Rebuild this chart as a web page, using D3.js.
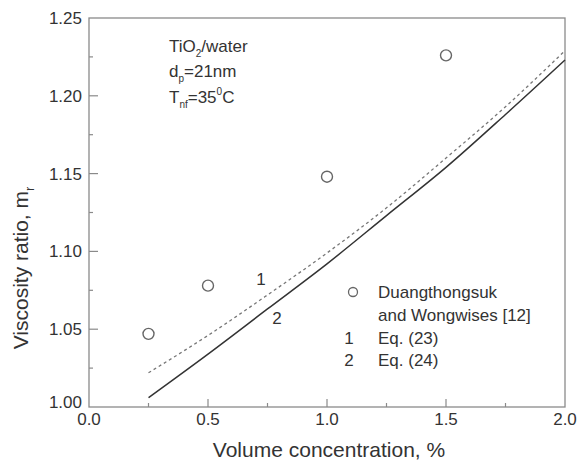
<!DOCTYPE html>
<html>
<head>
<meta charset="utf-8">
<script src="https://cdn.jsdelivr.net/npm/d3@7"></script>
<style>
  html, body { margin: 0; padding: 0; background: #fff; }
  svg text { font-family: "Liberation Sans", Arial, sans-serif; fill: #333; }
</style>
</head>
<body>
<svg id="chart" width="585" height="463"></svg>
<script>
// Measured data (Duangthongsuk and Wongwises [12])
const expPhi = [0.25, 0.5, 1.0, 1.5];
const expMu  = [1.047, 1.078, 1.148, 1.226];

// Model curves
const curvePhi = [0.25, 0.5, 0.75, 1.0, 1.25, 1.5, 1.75, 2.0];
const eq23Mu   = [1.022, 1.046, 1.072, 1.099, 1.128, 1.160, 1.193, 1.229];
const eq24Mu   = [1.006, 1.034, 1.063, 1.092, 1.123, 1.154, 1.188, 1.223];

const xMajor = [0, 0.5, 1.0, 1.5, 2.0];
const xMinor = [0.25, 0.75, 1.25, 1.75];
const yMajor = [1.00, 1.05, 1.10, 1.15, 1.20, 1.25];
const yMinor = [1.025, 1.075, 1.125, 1.175, 1.225];

const svg = d3.select("#chart");
const L = 89, R = 565, T = 18, B = 407;
const axisColor = "#8a8a8a";

const x = d3.scaleLinear().domain([0, 2]).range([L, R]);
const y = d3.scaleLinear().domain([1.0, 1.25]).range([B, T]);

// Frame
svg.append("rect")
  .attr("x", L).attr("y", T).attr("width", R - L).attr("height", B - T)
  .attr("fill", "none").attr("stroke", axisColor).attr("stroke-width", 1.3);

// Bottom axis ticks (inward)
const gx = svg.append("g");
gx.selectAll(".maj").data(xMajor.slice(1, -1)).join("line")
  .attr("x1", d => x(d)).attr("x2", d => x(d))
  .attr("y1", B).attr("y2", B - 8)
  .attr("stroke", axisColor).attr("stroke-width", 1.2);
gx.selectAll(".min").data(xMinor).join("line")
  .attr("x1", d => x(d)).attr("x2", d => x(d))
  .attr("y1", B).attr("y2", B - 4)
  .attr("stroke", axisColor).attr("stroke-width", 1.2);
gx.selectAll("text").data(xMajor).join("text")
  .attr("x", d => x(d)).attr("y", 425)
  .attr("text-anchor", "middle").attr("font-size", 17)
  .text(d => d3.format(".1f")(d));

// Left axis ticks (inward)
const gy = svg.append("g");
gy.selectAll(".maj").data(yMajor.slice(1, -1)).join("line")
  .attr("x1", L).attr("x2", L + 9)
  .attr("y1", d => y(d)).attr("y2", d => y(d))
  .attr("stroke", axisColor).attr("stroke-width", 1.2);
gy.selectAll(".min").data(yMinor).join("line")
  .attr("x1", L).attr("x2", L + 4)
  .attr("y1", d => y(d)).attr("y2", d => y(d))
  .attr("stroke", axisColor).attr("stroke-width", 1.2);
gy.selectAll("text").data(yMajor).join("text")
  .attr("x", 82).attr("y", d => y(d) + (d === 1.0 ? 1 : 6))
  .attr("text-anchor", "end").attr("font-size", 17)
  .text(d => d3.format(".2f")(d));

// Axis titles
svg.append("text")
  .attr("x", (L + R) / 2 + 2).attr("y", 457)
  .attr("text-anchor", "middle").attr("font-size", 21)
  .text("Volume concentration, %");

const yt = svg.append("text")
  .attr("transform", "translate(28,268) rotate(-90)")
  .attr("text-anchor", "middle").attr("font-size", 21);
yt.append("tspan").text("Viscosity ratio, m");
yt.append("tspan").attr("font-size", 13).attr("dy", 6).text("r");

// Curves
const line = d3.line().x(d => x(d[0])).y(d => y(d[1])).curve(d3.curveMonotoneX);
svg.append("path")
  .datum(d3.zip(curvePhi, eq23Mu))
  .attr("d", line).attr("fill", "none")
  .attr("stroke", "#777").attr("stroke-width", 1.3)
  .attr("stroke-dasharray", "3,3");
svg.append("path")
  .datum(d3.zip(curvePhi, eq24Mu))
  .attr("d", line).attr("fill", "none")
  .attr("stroke", "#333").attr("stroke-width", 1.5);

// Curve labels
svg.append("text").attr("x", 261).attr("y", 285).attr("text-anchor", "middle")
  .attr("font-size", 17).text("1");
svg.append("text").attr("x", 277).attr("y", 324).attr("text-anchor", "middle")
  .attr("font-size", 17).text("2");

// Measured points
svg.selectAll(".pt").data(d3.zip(expPhi, expMu)).join("circle")
  .attr("cx", d => x(d[0])).attr("cy", d => y(d[1])).attr("r", 5.5)
  .attr("fill", "none").attr("stroke", "#666").attr("stroke-width", 1.4);

// Conditions annotation
const ann = svg.append("g").attr("font-size", 17);
const a1 = ann.append("text").attr("x", 169).attr("y", 52);
a1.append("tspan").text("TiO");
a1.append("tspan").attr("font-size", 10).attr("dy", 5).text("2");
a1.append("tspan").attr("dy", -5).text("/water");
const a2 = ann.append("text").attr("x", 169).attr("y", 77);
a2.append("tspan").text("d");
a2.append("tspan").attr("font-size", 10).attr("dy", 5).text("p");
a2.append("tspan").attr("dy", -5).text("=21nm");
const a3 = ann.append("text").attr("x", 169).attr("y", 103);
a3.append("tspan").text("T");
a3.append("tspan").attr("font-size", 10).attr("dy", 5).text("nf");
a3.append("tspan").attr("dy", -5).text("=35");
a3.append("tspan").attr("font-size", 10).attr("dy", -8).text("0");
a3.append("tspan").attr("dy", 8).text("C");

// Legend
const lg = svg.append("g").attr("font-size", 17);
lg.append("circle").attr("cx", 353).attr("cy", 292).attr("r", 4.5)
  .attr("fill", "none").attr("stroke", "#666").attr("stroke-width", 1.3);
lg.append("text").attr("x", 378).attr("y", 298).text("Duangthongsuk");
lg.append("text").attr("x", 378).attr("y", 321).text("and Wongwises [12]");
lg.append("text").attr("x", 349).attr("y", 344).attr("text-anchor", "middle").text("1");
lg.append("text").attr("x", 378).attr("y", 344).text("Eq. (23)");
lg.append("text").attr("x", 349).attr("y", 366).attr("text-anchor", "middle").text("2");
lg.append("text").attr("x", 378).attr("y", 366).text("Eq. (24)");
</script>
</body>
</html>
